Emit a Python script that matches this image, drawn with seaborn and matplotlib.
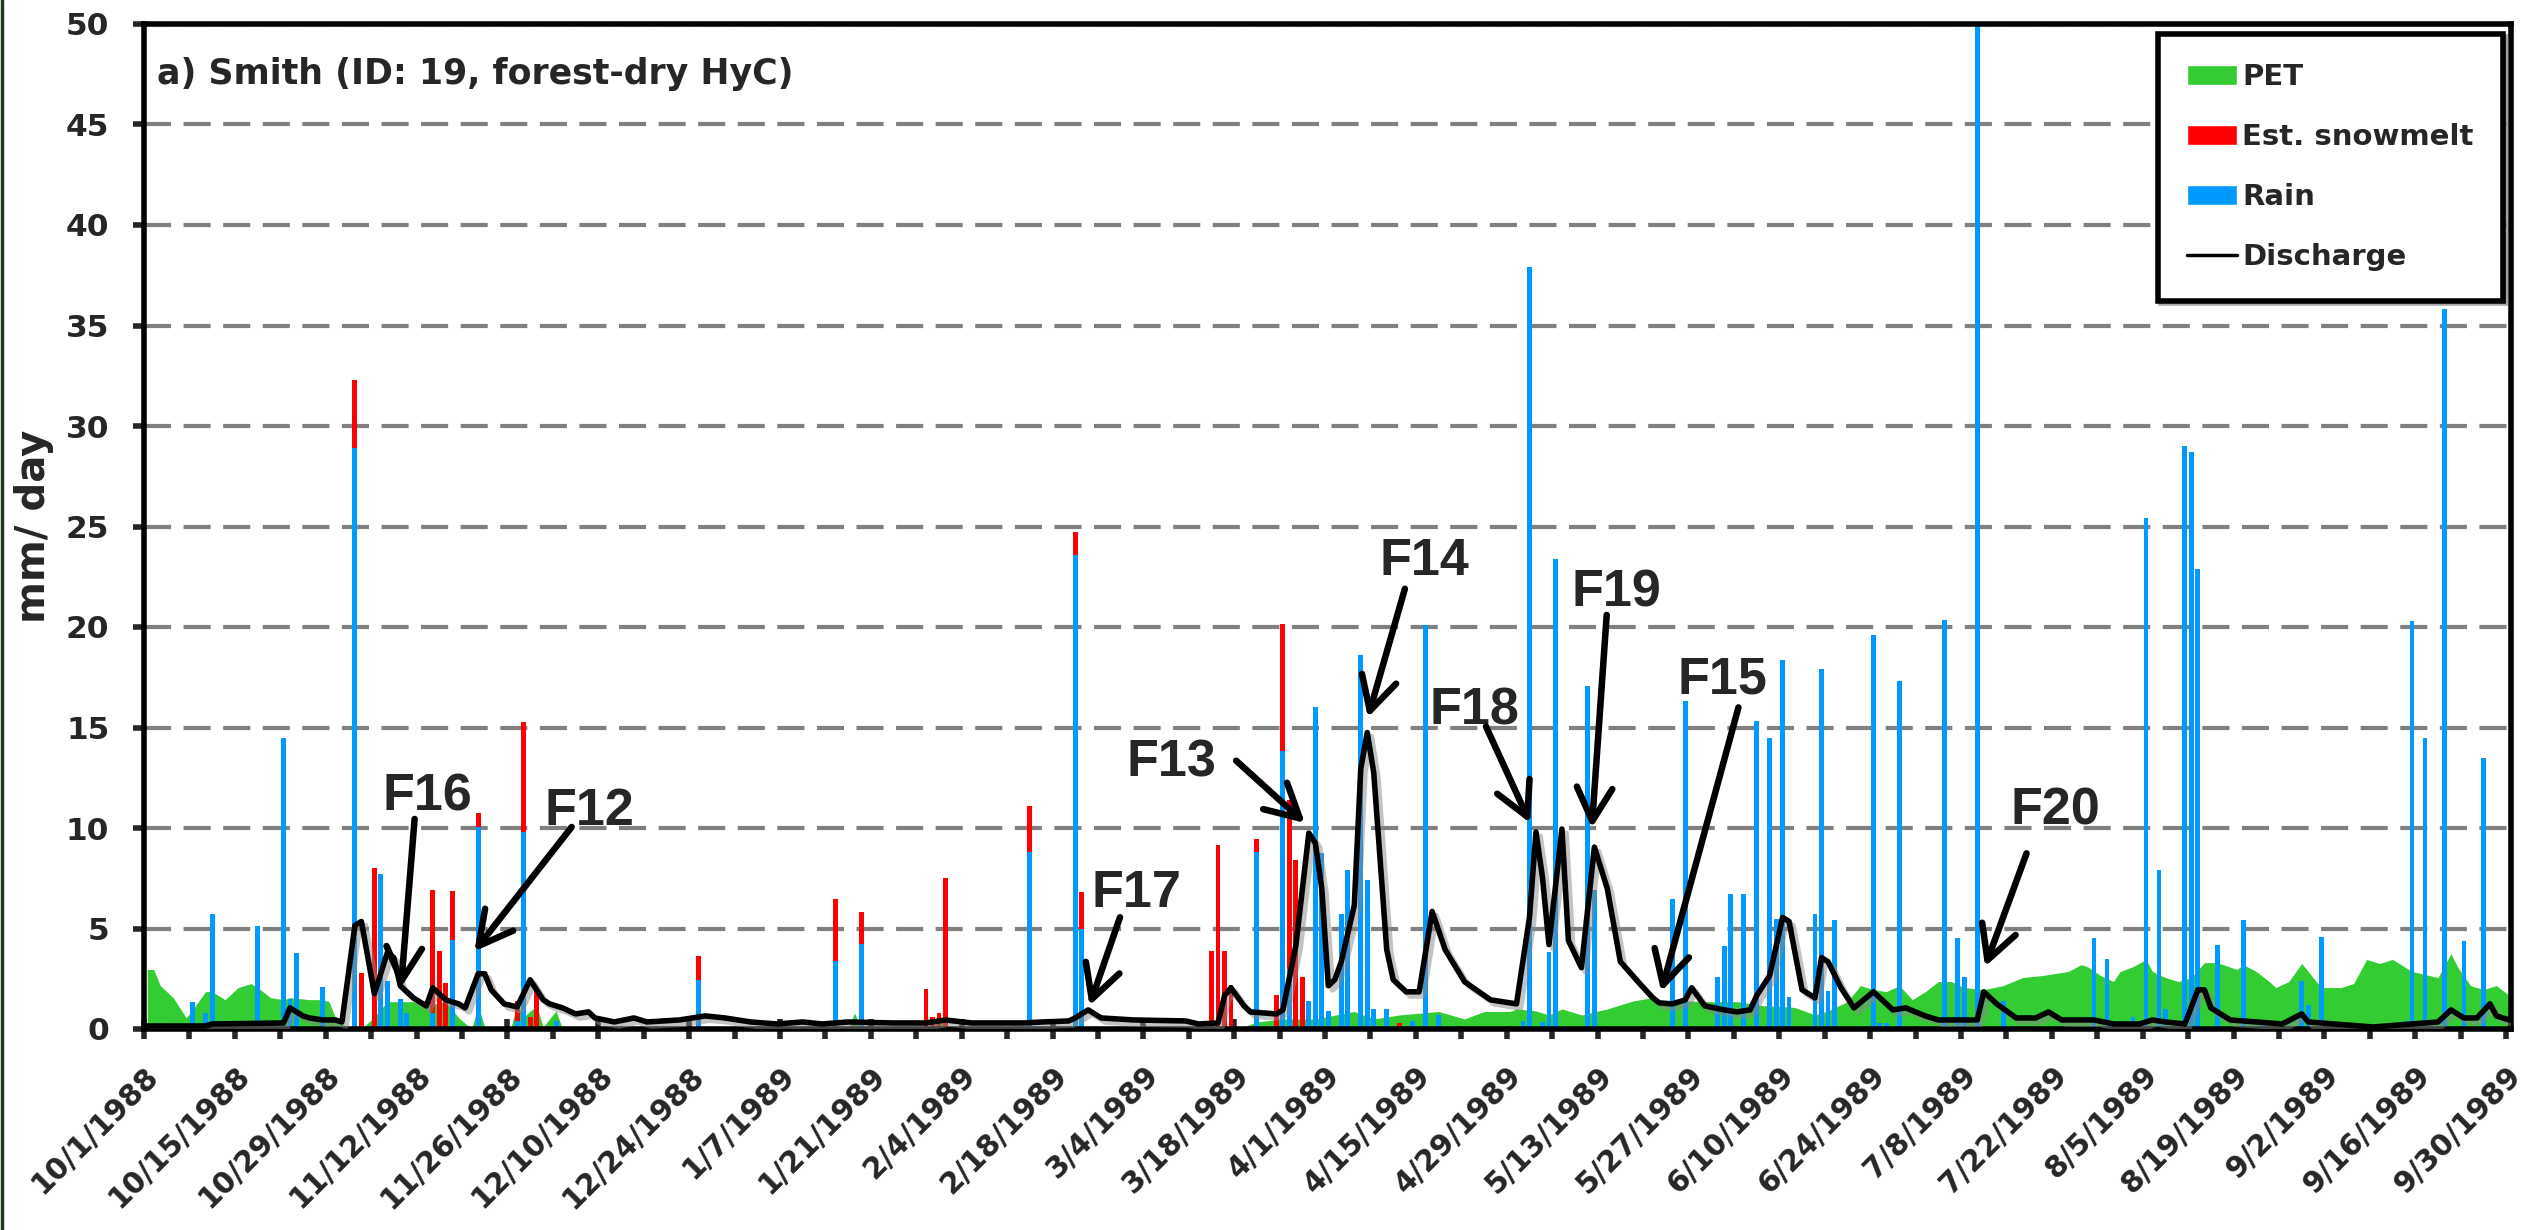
import numpy as np
import pandas as pd
import matplotlib
matplotlib.use("Agg")
import matplotlib.pyplot as plt
import matplotlib.patheffects as pe
from matplotlib.patches import Patch
from matplotlib.lines import Line2D
import seaborn as sns

# water year 1988/89, day index 0 = 10/1/1988
dates = pd.date_range("1988-10-01", "1989-09-30", freq="D")
n_days = len(dates)

# rain (mm/day)
rain_days = [2, 5, 7, 9, 10, 15, 17, 21, 22, 23, 27, 32, 36, 37, 39, 40, 44, 47, 51, 57,
             58, 63, 85, 106, 110, 136, 143, 144, 171, 175, 176, 179, 180, 181, 182, 184, 185, 187, 188, 189,
             191, 195, 197, 199, 212, 213, 215, 216, 217, 222, 223, 235, 237, 242, 243, 244, 246, 248, 250, 251,
             252, 253, 257, 258, 259, 260, 266, 267, 268, 270, 277, 279, 280, 282, 286, 300, 302, 306, 308, 310,
             311, 314, 315, 316, 319, 323, 326, 332, 333, 335, 348, 349, 351, 354, 357, 360]
rain_mm = [0.3, 0.2, 1.35, 0.8, 5.7, 0.3, 5.1, 14.5, 1.5, 3.8, 2.1, 28.9, 7.7, 2.4, 1.5, 0.8, 0.8, 4.45, 10.05, 0.4,
           9.8, 0.4, 2.45, 3.4, 4.25, 8.8, 23.6, 5.0, 8.8, 13.85, 3.0, 1.4, 16.0, 8.75, 0.9, 5.7, 7.9, 18.6, 7.4, 1.0,
           1.0, 0.4, 20.1, 0.7, 0.4, 37.9, 0.35, 3.85, 23.4, 17.05, 6.9, 6.45, 16.3, 2.6, 4.15, 6.7, 6.7, 15.3, 14.5, 5.45,
           18.35, 1.6, 5.7, 17.9, 1.9, 5.4, 19.6, 0.3, 0.3, 17.3, 20.35, 4.55, 2.6, 52.0, 1.4, 4.55, 3.5, 0.6, 25.4, 7.9,
           1.0, 29.0, 28.7, 22.9, 4.2, 5.4, 0.3, 2.4, 1.2, 4.6, 0.4, 20.3, 14.5, 35.8, 4.4, 13.5]

# estimated snowmelt (mm/day), stacked on rain
snow_days = [32, 33, 35, 44, 45, 46, 47, 51, 57, 58, 59, 60, 85, 106, 110, 120, 121, 122, 123, 136,
             143, 144, 164, 165, 166, 167, 171, 174, 175, 176, 177, 178, 193]
snow_mm = [3.4, 2.8, 8.0, 6.1, 3.9, 2.3, 2.4, 0.7, 1.0, 5.45, 0.6, 2.0, 1.2, 3.05, 1.55, 2.0, 0.6, 0.8, 7.5, 2.3,
           1.15, 1.8, 3.9, 9.15, 3.9, 2.2, 0.65, 1.7, 6.3, 8.4, 8.4, 2.6, 0.3]

# PET (mm/day)
pet_days = [0, 1, 2, 4, 5, 6, 7, 9, 10, 12, 14, 16, 17, 19, 21, 22, 25, 27, 28, 29,
            31, 33, 35, 37, 41, 43, 46, 48, 50, 51, 52, 53, 56, 57, 58, 60, 61, 63, 64, 108,
            109, 110, 121, 122, 123, 168, 171, 175, 180, 186, 189, 193, 199, 203, 206, 210, 211, 214, 216, 218,
            221, 225, 227, 229, 232, 234, 235, 237, 240, 245, 249, 253, 254, 257, 259, 262, 264, 266, 268, 270,
            272, 274, 276, 278, 280, 283, 286, 289, 292, 296, 298, 299, 301, 303, 304, 306, 308, 309, 311, 313,
            315, 317, 319, 322, 323, 325, 327, 328, 330, 332, 333, 335, 338, 340, 342, 344, 346, 347, 349, 353,
            355, 356, 358, 360, 362, 364]
pet_mm = [2.96, 2.96, 2.16, 1.56, 1.06, 0.56, 0.97, 1.86, 1.86, 1.46, 2.06, 2.26, 2.06, 1.56, 1.46, 1.56, 1.46, 1.46, 1.36, 0.56,
          0.0, 0.0, 0.6, 1.36, 1.36, 1.16, 1.36, 0.56, 0.0, 1.16, 0.1, 0.0, 0.0, 1.26, 0.6, 1.16, 0.1, 0.9, 0.0, 0.0,
          0.8, 0.0, 0.0, 0.6, 0.0, 0.0, 0.35, 0.5, 0.5, 0.87, 0.5, 0.7, 0.87, 0.5, 0.87, 0.87, 1.0, 0.9, 0.7, 1.0,
          0.7, 1.0, 1.2, 1.4, 1.56, 1.26, 1.36, 1.4, 1.36, 1.36, 1.16, 1.1, 1.06, 0.7, 0.9, 1.36, 2.16, 1.96, 1.86, 2.16,
          1.46, 1.86, 2.36, 2.36, 2.06, 1.96, 2.16, 2.56, 2.66, 2.86, 3.2, 3.1, 2.66, 2.36, 2.86, 3.1, 3.46, 2.86, 2.56, 2.36,
          2.56, 3.3, 3.3, 2.96, 3.2, 2.86, 2.36, 2.06, 2.36, 3.26, 2.86, 2.06, 2.06, 2.26, 3.46, 3.26, 3.46, 3.26, 2.86, 2.56,
          3.75, 3.1, 2.16, 1.96, 2.16, 1.66]

# discharge (mm/day)
q_days = [0, 9, 10, 21, 22, 24, 25, 27, 29, 30, 32, 33, 35, 37, 38, 39, 41, 43, 44, 46,
          48, 49, 51, 52, 53, 55, 57, 59, 61, 62, 64, 66, 68, 69, 72, 75, 77, 82, 86, 89,
          93, 97, 101, 104, 108, 115, 120, 123, 127, 135, 138, 142, 143, 145, 147, 152, 160, 162, 165, 166,
          167, 169, 170, 174, 175, 177, 179, 180, 181, 182, 183, 184, 186, 187, 188, 189, 191, 192, 194, 196,
          198, 200, 203, 207, 209, 211, 213, 214, 215, 216, 218, 219, 221, 223, 225, 227, 230, 232, 233, 235,
          237, 238, 240, 243, 245, 247, 248, 250, 252, 253, 255, 257, 258, 259, 261, 263, 266, 267, 269, 271,
          274, 276, 282, 283, 285, 288, 291, 293, 295, 300, 303, 307, 309, 311, 314, 316, 317, 318, 321, 325,
          329, 332, 333, 337, 343, 349, 353, 355, 357, 359, 361, 362, 364]
q_mm = [0.15, 0.15, 0.25, 0.3, 1.05, 0.65, 0.55, 0.45, 0.45, 0.35, 5.15, 5.35, 1.75, 3.8, 3.55, 2.15, 1.55, 1.15, 2.05, 1.45,
        1.25, 1.05, 2.75, 2.75, 1.95, 1.25, 1.1, 2.45, 1.45, 1.25, 1.05, 0.75, 0.85, 0.55, 0.35, 0.55, 0.35, 0.45, 0.65, 0.55,
        0.35, 0.25, 0.35, 0.25, 0.35, 0.3, 0.3, 0.45, 0.3, 0.3, 0.35, 0.4, 0.55, 0.95, 0.55, 0.45, 0.4, 0.25, 0.3, 1.65,
        2.05, 1.15, 0.85, 0.75, 0.95, 4.15, 9.75, 9.25, 6.97, 2.15, 2.45, 3.35, 6.15, 12.95, 14.75, 12.75, 3.95, 2.45, 1.85, 1.85,
        5.85, 3.95, 2.35, 1.45, 1.35, 1.25, 5.55, 9.8, 7.55, 4.2, 9.95, 4.4, 3.05, 9.05, 6.97, 3.35, 2.25, 1.55, 1.3, 1.25,
        1.45, 2.05, 1.15, 0.95, 0.85, 0.95, 1.65, 2.65, 5.55, 5.35, 1.95, 1.55, 3.55, 3.35, 2.05, 1.05, 1.85, 1.55, 0.95, 1.05,
        0.65, 0.45, 0.45, 1.85, 1.25, 0.55, 0.55, 0.85, 0.45, 0.45, 0.25, 0.25, 0.45, 0.35, 0.25, 1.95, 1.95, 1.05, 0.45, 0.35,
        0.25, 0.75, 0.35, 0.25, 0.1, 0.25, 0.35, 0.95, 0.55, 0.55, 1.25, 0.65, 0.45]

# event labels
event_names = ["F16", "F12", "F17", "F13", "F14", "F18", "F19", "F15", "F20"]
label_pos = [(43.6, 10.85), (68.6, 10.15), (153.0, 6.07), (158.4, 12.55), (197.3, 22.6),
             (205.0, 15.15), (226.9, 21.0), (243.2, 16.7), (294.6, 10.15)]
arrow_start = [(41.7, 10.45), (65.9, 10.05), (150.4, 5.56), (168.3, 13.35), (194.3, 21.9),
               (206.8, 15.05), (225.4, 20.6), (245.7, 16.0), (290.1, 8.74)]
arrow_tip = [(39.6, 2.06), (50.9, 3.86), (145.7, 1.16), (178.9, 10.25), (188.6, 15.5),
             (213.6, 10.25), (223.1, 10.0), (233.8, 1.86), (283.7, 3.1)]

c_pet = "#33CC33"
c_snow = "#FF0000"
c_rain = "#0099FF"

sns.set_style("white")
plt.rcParams["font.family"] = ["DejaVu Sans"]
plt.rcParams["font.weight"] = "bold"

W, H = 2529, 1230
fig = plt.figure(figsize=(W / 100, H / 100), dpi=100)
ax = fig.add_axes([144 / W, 1 - 1029 / H, (2511 - 144) / W, (1029 - 24) / H])

rain = np.zeros(n_days)
rain[rain_days] = rain_mm
snow = np.zeros(n_days)
snow[snow_days] = snow_mm
x = np.arange(n_days) + 0.5

ax.fill_between(np.array(pet_days) + 0.5, pet_mm, 0, color=c_pet, lw=0, zorder=1)
ax.bar(x, rain, width=0.75, color=c_rain, lw=0, zorder=2)
ax.bar(x, snow, bottom=rain, width=0.75, color=c_snow, lw=0, zorder=2)

sns.lineplot(x=np.array(q_days) + 0.5, y=q_mm, ax=ax, color="black", lw=4, zorder=4,
             path_effects=[pe.SimpleLineShadow(offset=(3, -3), shadow_color="#888888", alpha=0.5),
                           pe.Normal()])

ax.set_xlim(0, 364.75)
ax.set_ylim(0, 50)

# axes styling
for s in ax.spines.values():
    s.set_visible(True)
    s.set_linewidth(4)
    s.set_color("black")

ax.set_yticks(np.arange(0, 51, 5))
ax.yaxis.grid(True, color="#808080", lw=3, linestyle=(0, (6.5, 3)))
ax.set_axisbelow(True)
ax.tick_params(axis="y", direction="out", length=8, width=4, pad=17, labelsize=22.5, left=True)

major = np.arange(0, n_days, 14)
minor = np.arange(7, n_days, 14)
ax.set_xticks(major)
ax.set_xticks(minor, minor=True)
ax.set_xticklabels([f"{dates[i].month}/{dates[i].day}/{dates[i].year}" for i in major],
                   rotation=45, ha="right", va="top", rotation_mode="anchor")
ax.tick_params(axis="x", which="major", direction="inout", length=14, width=4, pad=16,
               labelsize=21.3, bottom=True)
ax.tick_params(axis="x", which="minor", direction="out", length=7, width=4, bottom=True)

ax.set_xlabel("")
ax.set_ylabel("mm/ day", fontsize=29, fontweight="bold")
ax.yaxis.set_label_coords(-0.038, 0.5)

ax.text(0.0055, 0.94, "a) Smith (ID: 19, forest-dry HyC)", transform=ax.transAxes,
        fontsize=25, fontweight="bold", ha="left", va="baseline")

# event annotations
for name, (tx, ty), p0, p1 in zip(event_names, label_pos, arrow_start, arrow_tip):
    ax.text(tx, ty, name, fontsize=37.5, fontweight="bold", family=["Liberation Sans", "DejaVu Sans"],
            ha="center", va="baseline", zorder=6)
    ax.annotate("", xy=p1, xytext=p0,
                arrowprops=dict(arrowstyle="->,head_length=0.6,head_width=0.32", lw=4.7,
                                color="black", mutation_scale=40, shrinkA=0, shrinkB=0),
                zorder=6)

handles = [Patch(facecolor=c_pet, label="PET"),
           Patch(facecolor=c_snow, label="Est. snowmelt"),
           Patch(facecolor=c_rain, label="Rain"),
           Line2D([], [], color="black", lw=2.5, label="Discharge")]
leg = ax.legend(handles=handles, loc="upper right", bbox_to_anchor=(0.9966, 0.99),
                prop={"weight": "bold", "size": 21}, frameon=True, fancybox=False, shadow=True,
                edgecolor="black", framealpha=1, borderpad=1.0, labelspacing=1.1,
                handlelength=1.7, handleheight=0.7, handletextpad=0.2, borderaxespad=0)
leg.get_frame().set_linewidth(4)
leg.set_zorder(10)

# thin dark border on the left edge of the picture
fig.add_artist(Line2D([0.0006, 0.0006], [0, 1], transform=fig.transFigure, color="#1E3B1E", lw=2.5))

fig.savefig("out.png", dpi=100)
